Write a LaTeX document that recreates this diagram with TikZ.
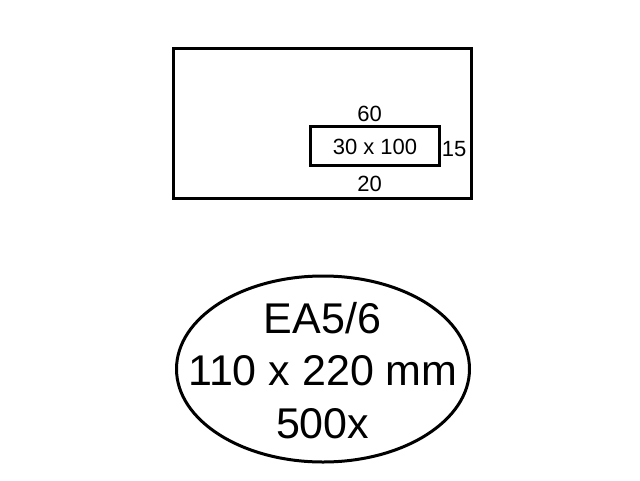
\documentclass[tikz,border=0pt]{standalone}
\usepackage{fontspec}
\setmainfont{Liberation Sans}
\usetikzlibrary{shapes.geometric}
\begin{document}
\begin{tikzpicture}[x=1pt,y=-1pt,
  box/.style={draw=black, line width=3pt, rectangle, inner sep=0pt, outer sep=0pt},
  small/.style={font=\fontsize{22}{22}\selectfont, inner sep=0pt, anchor=base},
  big/.style={font=\fontsize{43}{43}\selectfont, inner sep=0pt, anchor=base},
  badge/.style={draw=black, line width=3pt, ellipse, inner sep=0pt, outer sep=0pt}]
\useasboundingbox (0,0) rectangle (640,480);
\node[box, minimum width=297.7pt, minimum height=150pt] (envelope) at (322.8,123.3) {};
\node[box, minimum width=128.6pt, minimum height=39pt] (window) at (375,146.2) {};
\node[small] (top) at (369.5,121) {60};
\node[small] (size) at (375,154) {30 x 100};
\node[small] (right) at (454,156.7) {15};
\node[small] (bottom) at (369.5,191) {20};
\node[badge, minimum width=293pt, minimum height=186pt] (oval) at (323,369) {};
\node[big] (type) at (322.5,333.3) {EA5/6};
\node[big] (dims) at (323,385) {110 x 220 mm};
\node[big] (qty) at (322.7,438.3) {500x};
\end{tikzpicture}
\end{document}
